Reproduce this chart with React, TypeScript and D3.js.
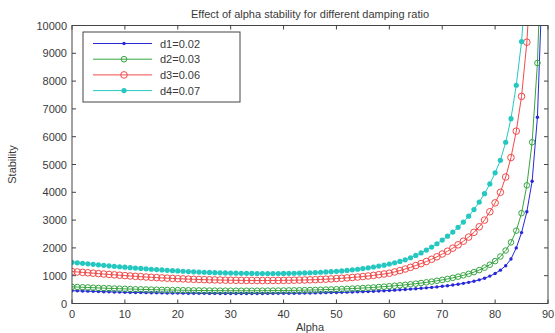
import React from 'react';
import * as d3 from 'd3';

// alpha in degrees, one marker per degree
const alpha = d3.range(0, 90);

const d1 = [460, 455, 450, 445, 440, 430, 425, 420, 415, 410,
  405, 400, 397, 393, 390, 387, 384, 381, 378, 376,
  374, 372, 370, 368, 366, 365, 364, 363, 362, 361,
  360, 360, 360, 360, 360, 361, 362, 363, 364, 365,
  367, 369, 371, 373, 376, 379, 382, 386, 390, 394,
  398, 403, 408, 414, 420, 427, 434, 442, 451, 460,
  470, 480, 492, 505, 518, 532, 547, 563, 580, 598,
  618, 640, 664, 692, 724, 760, 800, 850, 910, 985,
  1080, 1200, 1360, 1600, 2000, 2550, 3300, 4400, 6700, 12000];

const d2 = [600, 592, 584, 576, 568, 560, 553, 546, 539, 532,
  526, 520, 514, 509, 504, 499, 495, 491, 487, 483,
  480, 477, 474, 471, 469, 467, 465, 463, 462, 461,
  460, 459, 459, 459, 459, 460, 461, 462, 463, 465,
  467, 470, 473, 476, 480, 484, 489, 494, 500, 506,
  513, 520, 528, 537, 546, 556, 567, 579, 592, 606,
  621, 637, 654, 672, 692, 713, 736, 761, 788, 817,
  849, 884, 922, 965, 1013, 1067, 1130, 1203, 1290, 1395,
  1525, 1690, 1905, 2200, 2620, 3250, 4250, 5800, 8650, 14000];

const d3v = [1150, 1135, 1120, 1105, 1090, 1075, 1060, 1045, 1031, 1017,
  1003, 990, 977, 965, 953, 942, 931, 921, 911, 902,
  893, 885, 877, 870, 864, 858, 853, 848, 844, 840,
  837, 834, 832, 830, 829, 828, 828, 828, 829, 830,
  832, 835, 838, 842, 846, 851, 858, 866, 875, 885,
  896, 908, 921, 936, 952, 970, 990, 1012, 1036, 1062,
  1090, 1135, 1185, 1240, 1300, 1365, 1435, 1510, 1590, 1680,
  1780, 1880, 1990, 2110, 2240, 2390, 2560, 2760, 3000, 3300,
  3620, 4000, 4550, 5250, 6200, 7450, 9400, 12500, 18000, 30000];

const d4 = [1480, 1462, 1444, 1426, 1408, 1390, 1373, 1356, 1339, 1322,
  1306, 1290, 1275, 1260, 1246, 1232, 1219, 1206, 1194, 1182,
  1171, 1160, 1150, 1141, 1132, 1124, 1117, 1110, 1104, 1099,
  1094, 1090, 1087, 1084, 1082, 1080, 1079, 1079, 1079, 1080,
  1082, 1085, 1089, 1094, 1100, 1107, 1115, 1124, 1134, 1145,
  1157, 1172, 1190, 1210, 1232, 1256, 1283, 1313, 1345, 1380,
  1420, 1465, 1515, 1570, 1645, 1730, 1820, 1920, 2030, 2150,
  2280, 2420, 2570, 2740, 2930, 3140, 3380, 3650, 3950, 4300,
  4700, 5150, 5800, 6650, 7850, 9420, 12000, 16000, 25000, 50000];

const seriesNames = ['d1=0.02', 'd2=0.03', 'd3=0.06', 'd4=0.07'];
const seriesValues = [d1, d2, d3v, d4];
const colors = ['#2828d8', '#35a540', '#f24a4a', '#25c8c0'];
const markers = ['dot', 'open', 'openBig', 'filled'];

const xTicks = d3.range(0, 100, 10);
const yTicks = d3.range(0, 11000, 1000);

const W = 555;
const H = 333;
const left = 72, right = 548, top = 25.5, bottom = 303.5;
const font = 'Arial, "Liberation Sans", sans-serif';
const textColor = '#3a3a3a';

const Marker = ({ kind, cx, cy, color }) => {
  if (kind === 'dot') return <circle cx={cx} cy={cy} r={1.7} fill={color} />;
  if (kind === 'filled') return <circle cx={cx} cy={cy} r={2.6} fill={color} />;
  return <circle cx={cx} cy={cy} r={kind === 'openBig' ? 3.3 : 2.8} fill="none" stroke={color} strokeWidth={1} />;
};

export default function App() {
  const x = d3.scaleLinear().domain([0, 90]).range([left, right]);
  const y = d3.scaleLinear().domain([0, 10000]).range([bottom, top]);
  const line = d3.line<number>().x((_, i) => x(alpha[i])).y(v => y(v));

  return (
    <svg width={W} height={H} style={{ position: 'absolute', left: 0, top: 0, background: '#fff' }} fontFamily={font}>
      <defs>
        <clipPath id="plot">
          <rect x={left} y={top} width={right - left} height={bottom - top} />
        </clipPath>
      </defs>
      <rect x={left} y={top} width={right - left} height={bottom - top} fill="#fff" />

      <g clipPath="url(#plot)">
        {seriesValues.map((vals, s) => (
          <g key={seriesNames[s]}>
            <path d={line(vals) || ''} fill="none" stroke={colors[s]} strokeWidth={1} />
            {vals.map((v, i) => (
              <Marker key={i} kind={markers[s]} cx={x(alpha[i])} cy={y(v)} color={colors[s]} />
            ))}
          </g>
        ))}
      </g>

      {/* axes box with inward ticks */}
      <rect x={left} y={top} width={right - left} height={bottom - top} fill="none" stroke="#444" strokeWidth={1} />
      {xTicks.map(t => (
        <g key={'x' + t}>
          <line x1={x(t)} x2={x(t)} y1={bottom} y2={bottom - 4} stroke="#444" />
          <line x1={x(t)} x2={x(t)} y1={top} y2={top + 4} stroke="#444" />
          <text x={x(t)} y={318} textAnchor="middle" fontSize={11} fill={textColor}>{t}</text>
        </g>
      ))}
      {yTicks.map(t => (
        <g key={'y' + t}>
          <line x1={left} x2={left + 4} y1={y(t)} y2={y(t)} stroke="#444" />
          <line x1={right} x2={right - 4} y1={y(t)} y2={y(t)} stroke="#444" />
          <text x={67} y={y(t) + 4} textAnchor="end" fontSize={11} fill={textColor}>{t}</text>
        </g>
      ))}

      <text x={(left + right) / 2} y={18} textAnchor="middle" fontSize={11} fill={textColor}>
        Effect of alpha stability for different damping ratio
      </text>
      <text x={(left + right) / 2} y={331} textAnchor="middle" fontSize={11} fill={textColor}>Alpha</text>
      <text transform={`translate(16,${(top + bottom) / 2}) rotate(-90)`} textAnchor="middle" fontSize={11} fill={textColor}>Stability</text>

      {/* legend */}
      <rect x={83} y={32} width={157} height={70} fill="#fff" stroke="#444" strokeWidth={1} />
      {seriesNames.map((name, s) => {
        const ly = 43.5 + s * 15.7;
        return (
          <g key={'l' + s}>
            <line x1={93} x2={152} y1={ly} y2={ly} stroke={colors[s]} strokeWidth={1} />
            <Marker kind={markers[s]} cx={124} cy={ly} color={colors[s]} />
            <text x={160} y={ly + 4} fontSize={11} fill={textColor}>{name}</text>
          </g>
        );
      })}
    </svg>
  );
}
